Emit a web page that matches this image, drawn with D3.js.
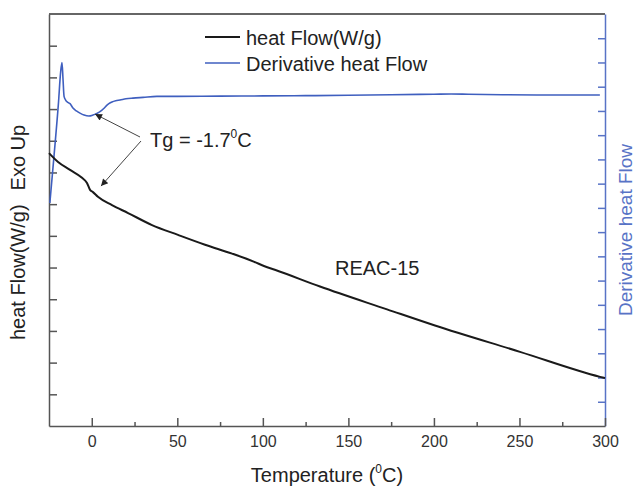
<!DOCTYPE html>
<html>
<head>
<meta charset="utf-8">
<script src="https://cdn.jsdelivr.net/npm/d3@7"></script>
<style>
  body { margin: 0; background: #fff; }
  text { font-family: "Liberation Sans", Arial, sans-serif; }
</style>
</head>
<body>
<svg id="chart" width="635" height="487"></svg>
<script>
// heat flow curve (left axis, arbitrary units), temperature in degC
const heatTemp = [-25, -19.7, -12.7, -5.7, -2.8, -1.0, 0.7, 3.6, 11.8, 21.2, 35.2, 50.4, 66.2, 82.0, 95.0, 101.0, 107.0, 133.4, 172.6, 200.6, 250.3, 297.1, 300];
const heatFlow = [8.61, 8.33, 8.08, 7.83, 7.67, 7.45, 7.38, 7.23, 6.97, 6.72, 6.34, 6.03, 5.72, 5.44, 5.18, 5.04, 4.93, 4.40, 3.68, 3.17, 2.34, 1.55, 1.51];

// derivative heat flow (right axis, arbitrary units)
const derivTemp = [-24.5, -22, -19.5, -18.2, -17.4, -16.8, -16.2, -15.3, -14, -12.7, -11, -9, -6.9, -4.5, -1.7, 0.7, 3, 4.8, 7, 8.9, 10, 11.8, 14, 16.5, 20, 24.1, 30, 38, 50, 75, 100, 125, 150, 175, 200, 210, 220, 240, 260, 280, 297];
const derivFlow = [9.2, 11.2, 13.3, 14.6, 15.0, 14.3, 13.6, 13.45, 13.35, 13.3, 13.12, 13.0, 12.91, 12.83, 12.79, 12.83, 12.9, 12.97, 13.1, 13.24, 13.3, 13.37, 13.42, 13.45, 13.5, 13.53, 13.56, 13.6, 13.6, 13.61, 13.62, 13.63, 13.65, 13.67, 13.69, 13.7, 13.69, 13.67, 13.66, 13.66, 13.66];

const xMajorTicks = [0, 50, 100, 150, 200, 250, 300];
const xMinorTicks = [25, 75, 125, 175, 225, 275];

// arrow tips for the Tg annotation, in data units
const tgTipDeriv = [1.9, 12.87];
const tgTipHeat = [5.4, 7.57];

const svg = d3.select("#chart");
const blue = "#3f5fbf";
const blueAxis = "#5873c6";

const x = d3.scaleLinear().domain([-25, 300]).range([49, 605]);
const yL = d3.scaleLinear().domain([0, 13]).range([426, 14]);
const yR = d3.scaleLinear().domain([0, 17]).range([426, 14]);

// top frame line
svg.append("line")
  .attr("x1", x(-25)).attr("x2", x(300))
  .attr("y1", yL(13)).attr("y2", yL(13))
  .attr("stroke", "#333").attr("stroke-width", 1.5);

// left axis, inward ticks, no labels
const leftAxis = svg.append("g")
  .attr("transform", `translate(${x(-25)},0)`)
  .call(d3.axisLeft(yL).tickValues(d3.range(1, 13)).tickSize(-8).tickSizeOuter(0).tickFormat(""));
leftAxis.selectAll("path, line").attr("stroke", "#555").attr("stroke-width", 1.5);

// right axis (derivative), blue
const rightAxis = svg.append("g")
  .attr("transform", `translate(${x(300)},0)`)
  .call(d3.axisRight(yR).tickValues(d3.range(1, 17)).tickSize(-7).tickSizeOuter(0).tickFormat(""));
rightAxis.selectAll("path, line").attr("stroke", blueAxis).attr("stroke-width", 1.5);

// bottom axis
const bottomAxis = svg.append("g")
  .attr("transform", `translate(0,${yL(0)})`)
  .call(d3.axisBottom(x).tickValues(xMajorTicks).tickSize(-8).tickSizeOuter(0).tickPadding(10));
bottomAxis.selectAll("path, line").attr("stroke", "#555").attr("stroke-width", 1.5);
bottomAxis.selectAll("text")
  .attr("font-size", "16px")
  .attr("fill", "#333")
  .style("font-family", "'Liberation Sans', Arial, sans-serif");

svg.append("g")
  .attr("transform", `translate(0,${yL(0)})`)
  .call(d3.axisBottom(x).tickValues(xMinorTicks).tickSize(-4).tickFormat(""))
  .call(g => g.select(".domain").remove())
  .selectAll("line").attr("stroke", "#555").attr("stroke-width", 1.5);

// curves
const heatLine = d3.line()
  .curve(d3.curveMonotoneX)
  .x((d, i) => x(heatTemp[i]))
  .y(d => yL(d));

const derivLine = d3.line()
  .curve(d3.curveMonotoneX)
  .x((d, i) => x(derivTemp[i]))
  .y(d => yR(d));

svg.append("path")
  .attr("d", derivLine(derivFlow))
  .attr("fill", "none")
  .attr("stroke", blue)
  .attr("stroke-width", 1.6);

svg.append("path")
  .attr("d", heatLine(heatFlow))
  .attr("fill", "none")
  .attr("stroke", "#1a1a1a")
  .attr("stroke-width", 2);

// legend
const legend = [
  { label: "heat Flow(W/g)", color: "#1a1a1a", width: 2 },
  { label: "Derivative heat Flow", color: blue, width: 1.6 }
];
legend.forEach((d, i) => {
  const yy = 37 + i * 26;
  svg.append("line")
    .attr("x1", 205).attr("x2", 240)
    .attr("y1", yy).attr("y2", yy)
    .attr("stroke", d.color).attr("stroke-width", d.width);
  svg.append("text")
    .attr("x", 246).attr("y", yy + 7.5)
    .attr("font-size", "20px")
    .attr("fill", "#222")
    .text(d.label);
});

// Tg annotation
svg.append("defs").append("marker")
  .attr("id", "arrow")
  .attr("viewBox", "0 0 10 10")
  .attr("refX", 10).attr("refY", 5)
  .attr("markerWidth", 9).attr("markerHeight", 7)
  .attr("markerUnits", "userSpaceOnUse")
  .attr("orient", "auto")
  .append("path")
  .attr("d", "M0,0 L10,5 L0,10 Z")
  .attr("fill", "#222");

svg.append("line")
  .attr("x1", 140).attr("y1", 137)
  .attr("x2", x(tgTipDeriv[0])).attr("y2", yR(tgTipDeriv[1]))
  .attr("stroke", "#444").attr("stroke-width", 1)
  .attr("marker-end", "url(#arrow)");

svg.append("line")
  .attr("x1", 141).attr("y1", 141)
  .attr("x2", x(tgTipHeat[0])).attr("y2", yL(tgTipHeat[1]))
  .attr("stroke", "#444").attr("stroke-width", 1)
  .attr("marker-end", "url(#arrow)");

const tg = svg.append("text")
  .attr("x", 150).attr("y", 147)
  .attr("font-size", "20px")
  .attr("fill", "#222");
tg.append("tspan").text("Tg = -1.7");
tg.append("tspan").attr("font-size", "12px").attr("dy", -9).text("0");
tg.append("tspan").attr("dy", 9).text("C");

svg.append("text")
  .attr("x", 335).attr("y", 275)
  .attr("font-size", "20px")
  .attr("fill", "#222")
  .text("REAC-15");

// axis titles
const xTitle = svg.append("text")
  .attr("x", 327).attr("y", 482)
  .attr("text-anchor", "middle")
  .attr("font-size", "20px")
  .attr("fill", "#222");
xTitle.append("tspan").text("Temperature (");
xTitle.append("tspan").attr("font-size", "12px").attr("dy", -9).text("0");
xTitle.append("tspan").attr("dy", 9).text("C)");

const yTitle = svg.append("text")
  .attr("transform", "translate(25,340) rotate(-90)")
  .attr("font-size", "20px")
  .attr("fill", "#222");
yTitle.append("tspan").text("heat Flow(W/g)");
yTitle.append("tspan").attr("dx", 14).text("Exo Up");

svg.append("text")
  .attr("transform", "translate(632,230) rotate(-90)")
  .attr("text-anchor", "middle")
  .attr("font-size", "19px")
  .attr("fill", blueAxis)
  .text("Derivative heat Flow");
</script>
</body>
</html>
